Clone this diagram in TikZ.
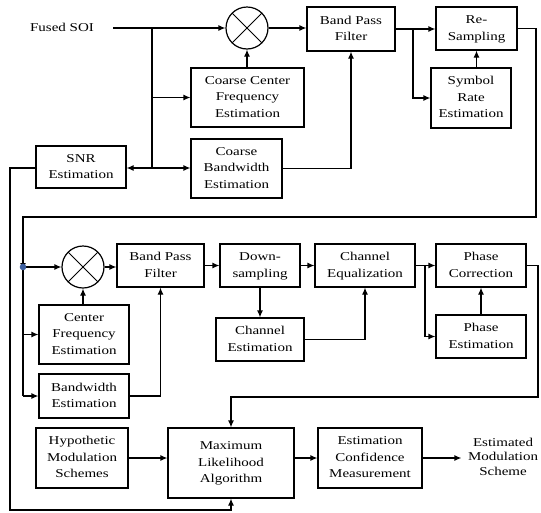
\documentclass[tikz,border=0pt]{standalone}
\usepackage{fontspec}
\usepackage{graphicx}
\setmainfont{Liberation Serif}
\usetikzlibrary{arrows.meta}
\definecolor{dotblue}{RGB}{60,95,160}
% widened multi-line label
\newcommand\wlabel[1]{\scalebox{1.25}[1]{\begin{tabular}{@{}c@{}}#1\end{tabular}}}
\begin{document}
\begin{tikzpicture}[x=1pt,y=-1pt,
  line width=1.2pt,
  txt/.style={font=\fontsize{12}{16.5}\selectfont, align=center, inner sep=0pt},
  box/.style={txt, draw, rectangle},
  mixer/.style={draw, circle, minimum size=42pt, inner sep=0pt,
    path picture={\draw[line width=0.9pt] (path picture bounding box.south west) -- (path picture bounding box.north east)
      (path picture bounding box.north west) -- (path picture bounding box.south east);}},
  arr/.style={-{Latex[length=7pt,width=6pt]}}]
\useasboundingbox (0,0) rectangle (541,512);

% first stage
\node[txt] (fused) at (62,28) {\wlabel{Fused SOI}};
\coordinate (fs) at (113,28);
\coordinate (j1) at (152,28);
\coordinate (j1b) at (152,168);
\node[mixer] (m1) at (247,28) {};
\node[box, minimum width=113pt, minimum height=59pt] (ccfe) at (247.5,97.5) {\wlabel{Coarse Center\\Frequency\\Estimation}};
\node[box, minimum width=91pt, minimum height=59pt] (cbe) at (236.5,168.5) {\wlabel{Coarse\\Bandwidth\\Estimation}};
\node[box, minimum width=90pt, minimum height=42pt] (snr) at (81,167) {\wlabel{SNR\\Estimation}};
\node[box, minimum width=88pt, minimum height=44pt] (bpf1) at (351,29) {\wlabel{Band Pass\\Filter}};
\node[box, minimum width=81pt, minimum height=43pt] (rs) at (476.5,28.5) {\wlabel{Re-\\Sampling}};
\node[box, minimum width=80pt, minimum height=60pt] (sre) at (471,98) {\wlabel{Symbol\\Rate\\Estimation}};

% second stage
\coordinate (dot) at (23,267);
\node[mixer] (m2) at (83,267) {};
\node[box, minimum width=87pt, minimum height=43pt] (bpf2) at (160.5,265.5) {\wlabel{Band Pass\\Filter}};
\node[box, minimum width=80pt, minimum height=43pt] (ds) at (260,265.5) {\wlabel{Down-\\sampling}};
\node[box, minimum width=100pt, minimum height=43pt] (ceq) at (365,265.5) {\wlabel{Channel\\Equalization}};
\node[box, minimum width=90pt, minimum height=43pt] (pc) at (481,265.5) {\wlabel{Phase\\Correction}};
\node[box, minimum width=90pt, minimum height=43pt] (pe) at (481,336.5) {\wlabel{Phase\\Estimation}};
\node[box, minimum width=88pt, minimum height=43pt] (chest) at (260,339.5) {\wlabel{Channel\\Estimation}};
\node[box, minimum width=90pt, minimum height=59pt] (cfe) at (84,334.5) {\wlabel{Center\\Frequency\\Estimation}};
\node[box, minimum width=90pt, minimum height=44pt] (bwe) at (84,396) {\wlabel{Bandwidth\\Estimation}};

% decision stage
\node[box, minimum width=92pt, minimum height=60pt] (hms) at (82,458) {\wlabel{Hypothetic\\Modulation\\Schemes}};
\node[box, minimum width=126pt, minimum height=70pt] (ml) at (231,463) {\wlabel{Maximum\\Likelihood\\Algorithm}};
\node[box, minimum width=104pt, minimum height=60pt] (ecm) at (370,458) {\wlabel{Estimation\\Confidence\\Measurement}};
\node[txt, font=\fontsize{12}{14.5}\selectfont] (est) at (503,458) {\wlabel{Estimated\\Modulation\\Scheme}};

% first stage connectors
\draw[arr] (fs) -- (m1.west);
\draw (j1) -- (j1b);
\draw[arr] (j1 |- ccfe.west) -- (ccfe.west);
\draw[arr] (j1b) -- (cbe.west |- j1b);
\draw[arr] (j1b) -- (snr.east |- j1b);
\draw[arr] (ccfe.north -| m1.south) -- (m1.south);
\draw[arr] (m1.east) -- (bpf1.west |- m1.east);
\draw[arr] (cbe.east) -| (bpf1.south);
\draw[arr] (bpf1.east) -- (rs.west |- bpf1.east);
\coordinate (j2) at (413,29);
\draw[arr] (j2) |- (sre.west);
\draw[arr] (rs.south |- sre.north) -- (rs.south);
\coordinate (r1) at (536,28.5);
\coordinate (r2) at (536,217);
\coordinate (r3) at (23,217);
\draw[arr] (rs.east) -- (r1) -- (r2) -- (r3) -- ([yshift=-3pt]dot);

% second stage connectors
\draw[arr] (dot) -- (m2.west);
\draw[arr] (m2.east) -- (bpf2.west |- m2.east);
\draw[arr] (bpf2.east) -- (ds.west);
\draw[arr] (ds.east) -- (ceq.west);
\draw[arr] (ceq.east) -- (pc.west);
\coordinate (j3) at (425,265.5);
\draw[arr] (j3) |- (pe.west);
\draw[arr] (pe.north) -- (pc.south);
\draw[arr] (ds.south) -- (chest.north);
\draw[arr] (chest.east) -| (ceq.south);
\draw (dot) -- (23,396);
\draw[arr] (dot |- cfe.west) -- (cfe.west);
\draw[arr] (dot |- bwe.west) -- (bwe.west);
\draw[arr] (cfe.north -| m2.south) -- (m2.south);
\draw[arr] (bwe.east) -| (bpf2.south);
\coordinate (p1) at (538,265.5);
\coordinate (p2) at (538,397);
\draw[arr] (pc.east) -- (p1) -- (p2) -| (ml.north);
\fill[dotblue] (dot) circle (3.3pt);

% decision stage connectors
\draw[arr] (hms.east) -- (hms.east -| ml.west);
\draw[arr] (ml.east |- ecm.west) -- (ecm.west);
\draw[arr] (ecm.east) -- ([xshift=-6pt]est.west);
\coordinate (s1) at (10,168);
\coordinate (s2) at (10,510);
\draw[arr] (snr.west |- s1) -- (s1) -- (s2) -| (ml.south);
\end{tikzpicture}
\end{document}
